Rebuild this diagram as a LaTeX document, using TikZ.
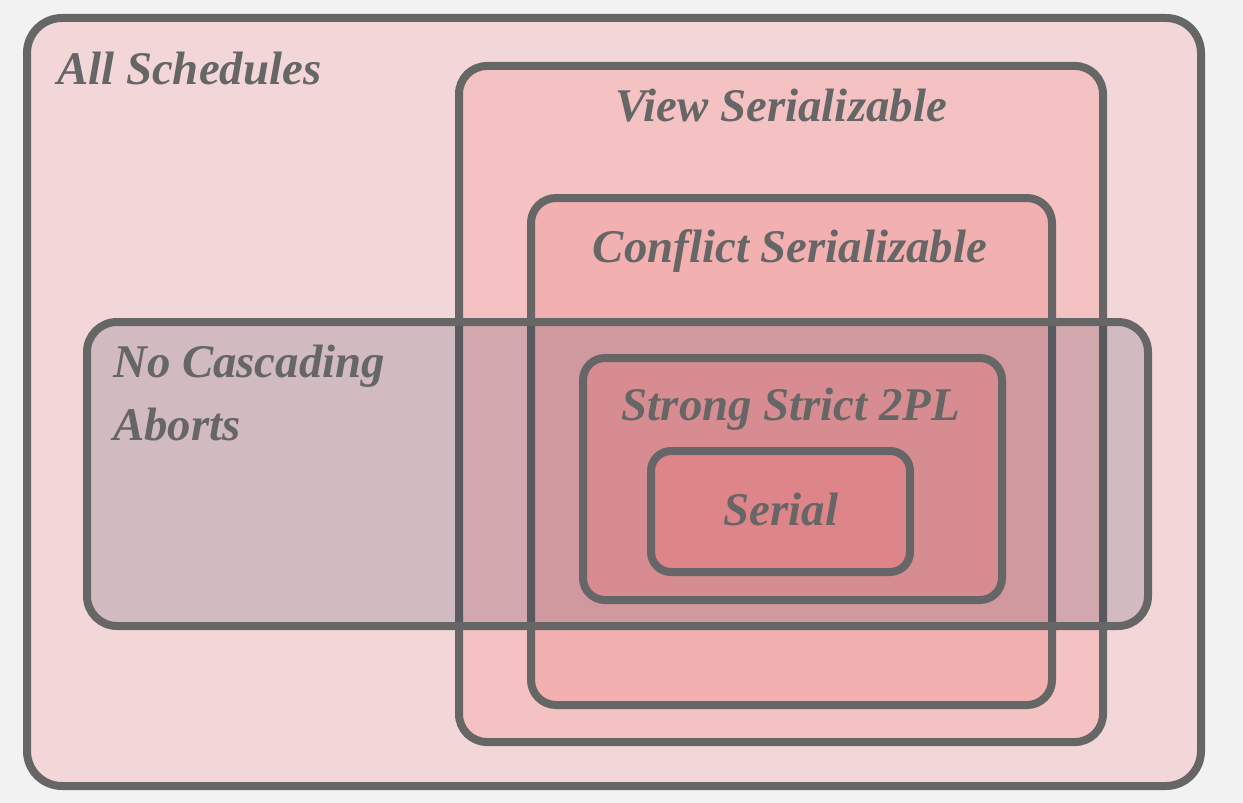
\documentclass[tikz,border=0pt]{standalone}
\usepackage{fontspec}
\setmainfont{Liberation Serif}
\definecolor{bgc}{HTML}{F2F2F2}
\definecolor{edge}{HTML}{666666}
\definecolor{allc}{HTML}{F3D7D8}
\definecolor{viewc}{HTML}{F4C2C3}
\definecolor{confc}{HTML}{F2B0B1}
\definecolor{ncac}{RGB}{20,25,60}
\definecolor{ssc}{HTML}{D68C91}
\definecolor{serc}{HTML}{DE8589}
\tikzset{
  setbox/.style={draw=edge, line width=8bp},
  lbl/.style={text=edge, inner sep=0pt, font=\fontsize{47}{56}\selectfont\bfseries\itshape}
}
\begin{document}
\begin{tikzpicture}[x=1bp,y=-1bp]
\useasboundingbox (0,0) rectangle (1243,803);
\fill[bgc] (0,0) rectangle (1243,803);
% All schedules
\draw[setbox, fill=allc, rounded corners=35bp] (27,18) rectangle (1201,786);
% View serializable
\draw[setbox, fill=viewc, rounded corners=28bp] (459,66) rectangle (1103,742);
% Conflict serializable
\draw[setbox, fill=confc, rounded corners=25bp] (531,198) rectangle (1052,705);
% No cascading aborts (translucent)
\draw[setbox, fill=ncac, fill opacity=0.15, rounded corners=30bp] (87,322) rectangle (1148,626);
% Strong strict 2PL
\draw[setbox, fill=ssc, rounded corners=22bp] (583,358) rectangle (1002,600);
% Serial
\draw[setbox, fill=serc, rounded corners=20bp] (651,451) rectangle (910,572);
% Labels
\node[lbl, anchor=base west] (tall) at (57,85) {All Schedules};
\node[lbl, anchor=base] (tview) at (781,122) {View Serializable};
\node[lbl, anchor=base] (tconf) at (790,262) {Conflict Serializable};
\node[lbl, anchor=base west] (tnca1) at (113,377) {No Cascading};
\node[lbl, anchor=base west] (tnca2) at (113,440) {Aborts};
\node[lbl, anchor=base] (tss) at (791,420) {Strong Strict 2PL};
\node[lbl, anchor=base] (tser) at (781,525) {Serial};
\end{tikzpicture}
\end{document}
